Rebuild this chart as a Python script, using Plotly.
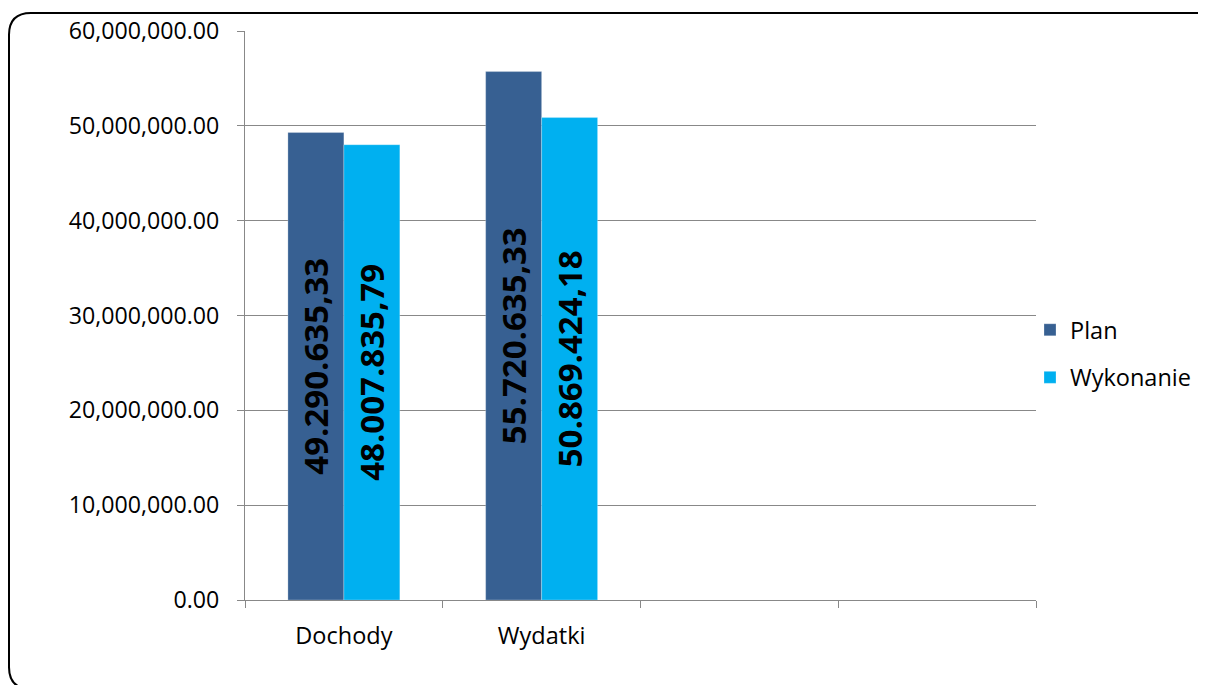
import plotly.graph_objects as go

categories = ["Dochody", "Wydatki", " ", "  "]
plan_values = [49290635.33, 55720635.33, None, None]
wykonanie_values = [48007835.79, 50869424.18, None, None]
plan_labels = ["49.290.635,33", "55.720.635,33", "", ""]
wykonanie_labels = ["48.007.835,79", "50.869.424,18", "", ""]
y_ticks = [0, 10000000, 20000000, 30000000, 40000000, 50000000, 60000000]

# page body has an 8px offset; work in figure coordinates
OFF = 8
W, H = 1206 - OFF, 685 - OFF
PL, PR, PT, PB = 245 - OFF, 1036 - OFF, 31 - OFF, 600 - OFF

label_font = dict(family="Open Sans, Liberation Sans, sans-serif",
                  size=33, color="black", weight="bold")

fig = go.Figure()
fig.add_trace(go.Bar(
    x=categories, y=plan_values, name="Plan", legendgroup="a",
    marker=dict(color="#376092", line=dict(color="rgba(255,255,255,0.5)", width=0.5)),
    text=plan_labels, textposition="inside", textangle=-90,
    insidetextanchor="middle", textfont=label_font, hoverinfo="skip",
))
fig.add_trace(go.Bar(
    x=categories, y=wykonanie_values, name="Wykonanie", legendgroup="b",
    marker=dict(color="#00B0F0", line=dict(color="rgba(255,255,255,0.5)", width=0.5)),
    text=wykonanie_labels, textposition="inside", textangle=-90,
    insidetextanchor="middle", textfont=label_font, hoverinfo="skip",
))


def px2paper(x, y):
    x -= OFF
    y -= OFF
    return (x - PL) / (PR - PL), (PB - y) / (PB - PT)


L, T, R, B, r = 9, 13, 1219, 689, 22
pts = [
    ("M", [(L, T + r)]),
    ("Q", [(L, T), (L + r, T)]),
    ("L", [(R - r, T)]),
    ("Q", [(R, T), (R, T + r)]),
    ("L", [(R, B - r)]),
    ("Q", [(R, B), (R - r, B)]),
    ("L", [(L + r, B)]),
    ("Q", [(L, B), (L, B - r)]),
]
path = ""
for cmd, ps in pts:
    path += cmd + " " + " ".join("%.5f,%.5f" % px2paper(*p) for p in ps) + " "
path += "Z"

# legend in container coordinates (no margin push)
lgx = (1030 - OFF) / W
lgy = 1 - (308 - OFF) / H

fig.update_layout(
    width=W, height=H,
    margin=dict(l=PL, r=W - PR, t=PT, b=H - PB, autoexpand=False),
    paper_bgcolor="white", plot_bgcolor="white",
    barmode="group", bargap=0.434, bargroupgap=0,
    font=dict(family="Open Sans, sans-serif", size=23, color="black"),
    uniformtext=dict(mode=False),
    legend=dict(x=lgx, y=lgy, xref="container", yref="container",
                xanchor="left", yanchor="top", tracegroupgap=14,
                traceorder="grouped", font=dict(size=23.5),
                itemwidth=30, bgcolor="rgba(0,0,0,0)"),
    shapes=[dict(type="path", xref="paper", yref="paper", path=path,
                 line=dict(color="black", width=2), fillcolor="rgba(0,0,0,0)",
                 layer="above")],
    xaxis=dict(
        type="category", categoryorder="array", categoryarray=categories,
        range=[-0.5, 3.5], tickson="boundaries", ticks="outside", ticklen=7,
        tickcolor="#888888", showline=True, linecolor="#888888", linewidth=1,
        showgrid=False, ticklabelstandoff=15, tickfont=dict(size=23.5),
        automargin=False,
    ),
    yaxis=dict(
        range=[0, 60000000], tickvals=y_ticks, tickformat=",.2f",
        ticks="outside", ticklen=7, tickcolor="#888888",
        showline=True, linecolor="#888888", linewidth=1,
        showgrid=True, gridcolor="#888888", gridwidth=1,
        zeroline=False, ticklabelstandoff=13, tickfont=dict(size=23.2),
        automargin=False,
    ),
)

fig.write_html("out.html")
